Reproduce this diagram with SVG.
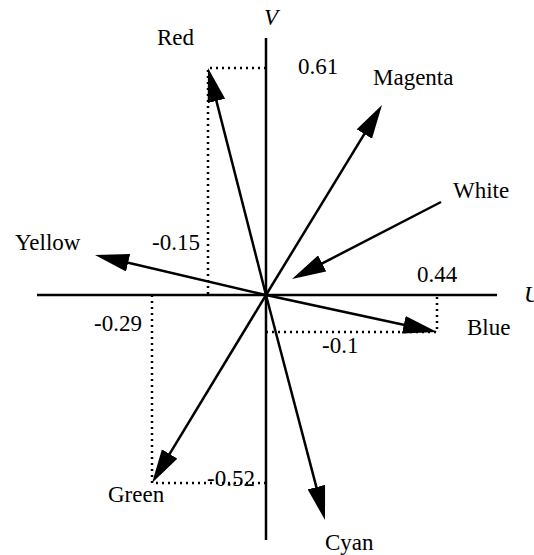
<svg xmlns="http://www.w3.org/2000/svg" width="534" height="555" viewBox="0 0 534 555">
<style>
text{font-family:"Liberation Serif","Times New Roman",serif;font-size:23px;fill:#000}
.it{font-style:italic}
.axis{stroke:#000;stroke-width:2.5;fill:none}
.vec{stroke:#000;stroke-width:2.5;fill:none;marker-end:url(#ah)}
.dot{stroke:#000;stroke-width:2.5;fill:none;stroke-dasharray:2 4}
</style>
<defs>
<marker id="ah" viewBox="0 0 34 18" refX="14" refY="9" markerWidth="34" markerHeight="18" markerUnits="userSpaceOnUse" orient="auto">
<path d="M0,0 L34,9 L0,18 z" fill="#000"/>
</marker>
</defs>
<rect width="534" height="555" fill="#fff"/>
<g id="axes">
<line class="axis" x1="266" y1="38" x2="266" y2="540"/>
<line class="axis" x1="37" y1="295" x2="497" y2="295"/>
<text class="it" x="264" y="25">V</text>
<text class="it" x="524" y="302">U</text>
</g>
<g id="guides">
<path class="dot" d="M266,68 H208 V295"/>
<path class="dot" d="M152,295 V483 H266"/>
<path class="dot" d="M266,332 H437 V295"/>
</g>
<g id="connectors">
<line class="vec" x1="266" y1="295" x2="212.95" y2="87.38"/>
<line class="vec" x1="266" y1="295" x2="371.58" y2="122.07"/>
<line class="vec" x1="441" y1="202" x2="309.77" y2="269.82"/>
<line class="vec" x1="266" y1="295" x2="114.48" y2="259.56"/>
<line class="vec" x1="266" y1="295" x2="417.46" y2="327.77"/>
<line class="vec" x1="266" y1="295" x2="162.37" y2="465.9"/>
<line class="vec" x1="266" y1="295" x2="319.93" y2="500.65"/>
</g>
<g id="red"><text x="157" y="45">Red</text><text x="298" y="74">0.61</text><text x="152" y="250">-0.15</text></g>
<g id="magenta"><text x="373" y="85">Magenta</text></g>
<g id="white"><text x="453" y="198">White</text></g>
<g id="yellow"><text x="15" y="250">Yellow</text></g>
<g id="blue"><text x="467" y="335">Blue</text><text x="417" y="282">0.44</text><text x="322" y="353">-0.1</text></g>
<g id="green"><text x="108" y="502">Green</text><text x="94" y="331">-0.29</text><text x="207" y="486">-0.52</text></g>
<g id="cyan"><text x="325" y="550">Cyan</text></g>
</svg>
